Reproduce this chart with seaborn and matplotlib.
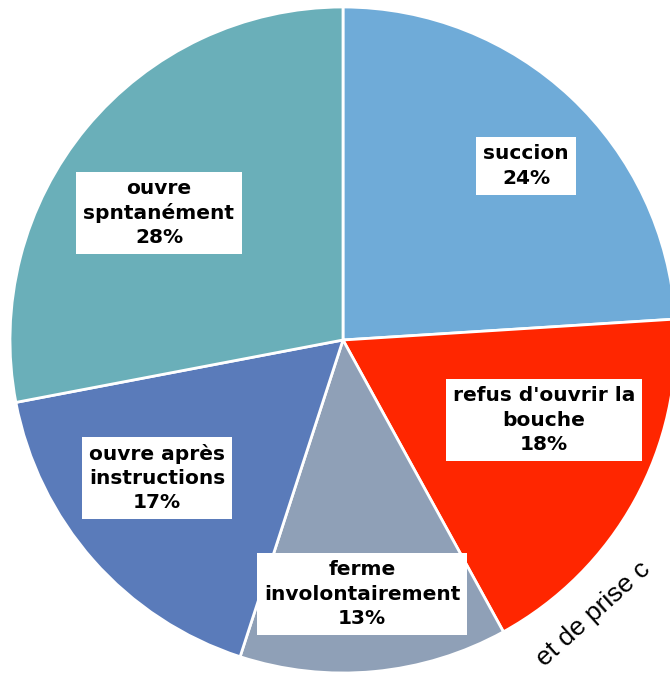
import matplotlib
matplotlib.use("Agg")
import matplotlib.pyplot as plt
import seaborn as sns

# Donnees du graphique
categories = ["succion", "refus d'ouvrir la\nbouche", "ferme\ninvolontairement",
              "ouvre après\ninstructions", "ouvre\nspntanément"]
valeurs = [24, 18, 13, 17, 28]
couleurs = ["#6FABD8", "#FF2600", "#8FA0B7", "#5A7BBA", "#6AAFB9"]

sns.set_theme(style="white")
plt.rcParams["font.family"] = ["DejaVu Sans"]

fig = plt.figure(figsize=(6.7, 6.73), dpi=100)
ax = fig.add_axes([0, 0, 1, 1])

wedges, _ = ax.pie(valeurs, colors=couleurs, startangle=90, counterclock=False,
                   radius=1.0, wedgeprops=dict(edgecolor="white", linewidth=2))

# Fenetre : centre du camembert en (343, 340) px, rayon 333 px
ax.set_xlim(-343 / 333, 327 / 333)
ax.set_ylim(-333 / 333, 340 / 333)
ax.set_aspect("equal")
ax.axis("off")

# Etiquettes (position en pixels de l'image d'origine)
pos_px = [(526, 166), (544, 420), (362, 594), (157, 478), (159, 213)]
for nom, v, (px, py) in zip(categories, valeurs, pos_px):
    x = (px - 343) / 333
    y = (340 - py) / 333
    ax.text(x, y, f"{nom}\n{v}%", ha="center", va="center", fontsize=14.5,
            fontweight="bold", color="black", linespacing=1.35,
            bbox=dict(boxstyle="square,pad=0.35", facecolor="white", edgecolor="none"))

ax.text((593 - 343) / 333, (340 - 614) / 333, "et de prise c", fontsize=19,
        color="black", rotation=42, ha="center", va="center", family="Liberation Sans")

fig.savefig("out.png", dpi=100)
plt.close()
